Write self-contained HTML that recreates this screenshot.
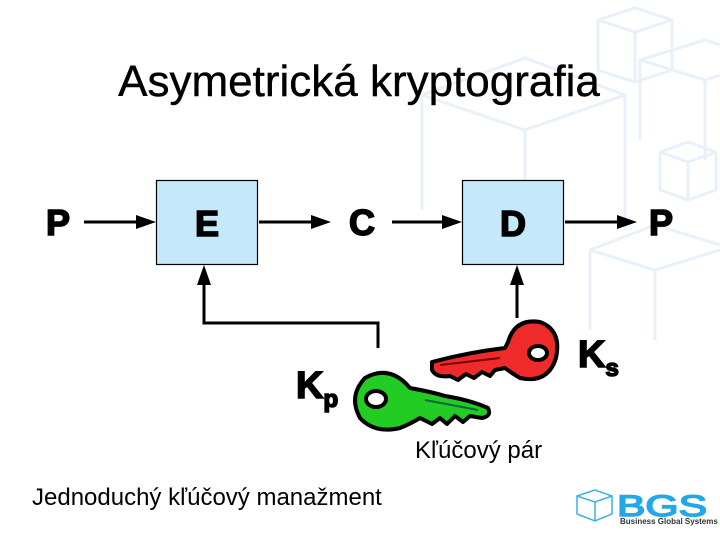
<!DOCTYPE html>
<html><head><meta charset="utf-8"><style>
html,body{margin:0;padding:0;background:#fff}
svg{display:block}
text{font-family:"Liberation Sans",Arial,sans-serif}
.bb{font-weight:bold;stroke:#000;stroke-width:1.6}
</style></head><body>
<svg width="720" height="540" viewBox="0 0 720 540" xmlns="http://www.w3.org/2000/svg">
<g fill="none" stroke="#e8f1f9" stroke-width="3">
<path d="M422,210 L422,95 L525,58 L625,95 L625,230 M422,95 L525,130 L625,95 M525,130 L525,260"/>
<path d="M598,70 L598,20 L635,8 L672,20 L672,70 L635,82 Z M598,20 L635,32 L672,20 M635,32 L635,82"/>
<path d="M640,140 L640,60 L705,40 L720,45 M640,60 L705,80 L720,75 M705,80 L705,160"/>
<path d="M660,190 L660,152 L688,142 L716,152 L716,190 L688,200Z M660,152 L688,162 L716,152 M688,162 L688,200"/>
<path d="M590,330 L590,250 L655,225 L720,245 M590,250 L655,270 L720,250 M655,270 L655,340"/>
</g>
<text x="359" y="96" font-size="44" text-anchor="middle" stroke="#000" stroke-width="0.4">Asymetrická kryptografia</text>
<rect x="156.5" y="180.5" width="101" height="84" fill="#c6e8fb" stroke="#000" stroke-width="1.2"/>
<rect x="462.5" y="180.5" width="101" height="84" fill="#c6e8fb" stroke="#000" stroke-width="1.2"/>
<g font-size="36" text-anchor="middle">
<text class="bb" x="58" y="235">P</text><text class="bb" x="207" y="236">E</text><text class="bb" x="362" y="235">C</text><text class="bb" x="513" y="236">D</text><text class="bb" x="661" y="235">P</text>
</g>
<g stroke="#000" stroke-width="3" fill="none">
<line x1="84" y1="222" x2="140" y2="222"/>
<line x1="259" y1="222" x2="315" y2="222"/>
<line x1="392" y1="222" x2="446" y2="222"/>
<line x1="565" y1="222" x2="621" y2="222"/>
<line x1="517" y1="318" x2="517" y2="280"/>
<path d="M378,348 L378,323 L204,323 L204,280"/>
</g>
<g>
<path d="M136,215 L156,222 L136,229Z"/>
<path d="M311,215 L331,222 L311,229Z"/>
<path d="M442,215 L462,222 L442,229Z"/>
<path d="M617,215 L637,222 L617,229Z"/>
<path d="M197,285 L204,265 L211,285Z"/>
<path d="M510,285 L517,265 L524,285Z"/>
</g>
<g stroke="#000" stroke-width="4" stroke-linejoin="round">
<path d="M432,362 Q470,352 505,348 L508,342 Q515,318 540,322 Q562,330 556,358 Q548,384 520,378 Q510,372 505,368 L495,370 L490,376 L482,372 L474,378 L466,374 L458,380 L450,376 Q436,378 432,370Z" fill="#ee2a2a"/>
<ellipse cx="538" cy="353" rx="9" ry="7" fill="#fff"/>
<path d="M440,365 L500,358" stroke="#7a0000" stroke-width="2"/>
</g>
<g stroke="#000" stroke-width="4" stroke-linejoin="round">
<path d="M410,388 Q432,392 445,396 Q470,400 488,408 Q492,416 482,418 L470,416 L463,422 L455,416 L447,424 L440,418 L432,424 L420,418 Q410,424 400,428 Q375,434 360,418 Q348,396 365,378 Q390,364 410,388Z" fill="#22cc22"/>
<ellipse cx="376" cy="399" rx="10" ry="8" fill="#fff"/>
<path d="M425,400 L478,410" stroke="#064" stroke-width="2"/>
</g>
<text class="bb" x="296" y="398" font-size="38">K<tspan font-size="24" dy="9">p</tspan></text>
<text class="bb" x="578" y="367" font-size="38">K<tspan font-size="24" dy="9">s</tspan></text>
<text x="415" y="458" font-size="24">Kľúčový pár</text>
<text x="32" y="505" font-size="24">Jednoduchý kľúčový manažment</text>
<g fill="none" stroke="#3bb0e8" stroke-width="1.5">
<path d="M577,496 L595,490 L612,496 L612,514 L595,521 L577,514Z M577,496 L595,502 L612,496 M595,502 L595,521"/>
</g>
<text x="617" y="516" font-size="30" fill="#22a8e8" stroke="#22a8e8" stroke-width="1.5" textLength="90" lengthAdjust="spacingAndGlyphs">BGS</text>
<text x="620" y="524" font-size="8" fill="#333" style="font-weight:bold">Business Global Systems</text>
</svg>
</body></html>
